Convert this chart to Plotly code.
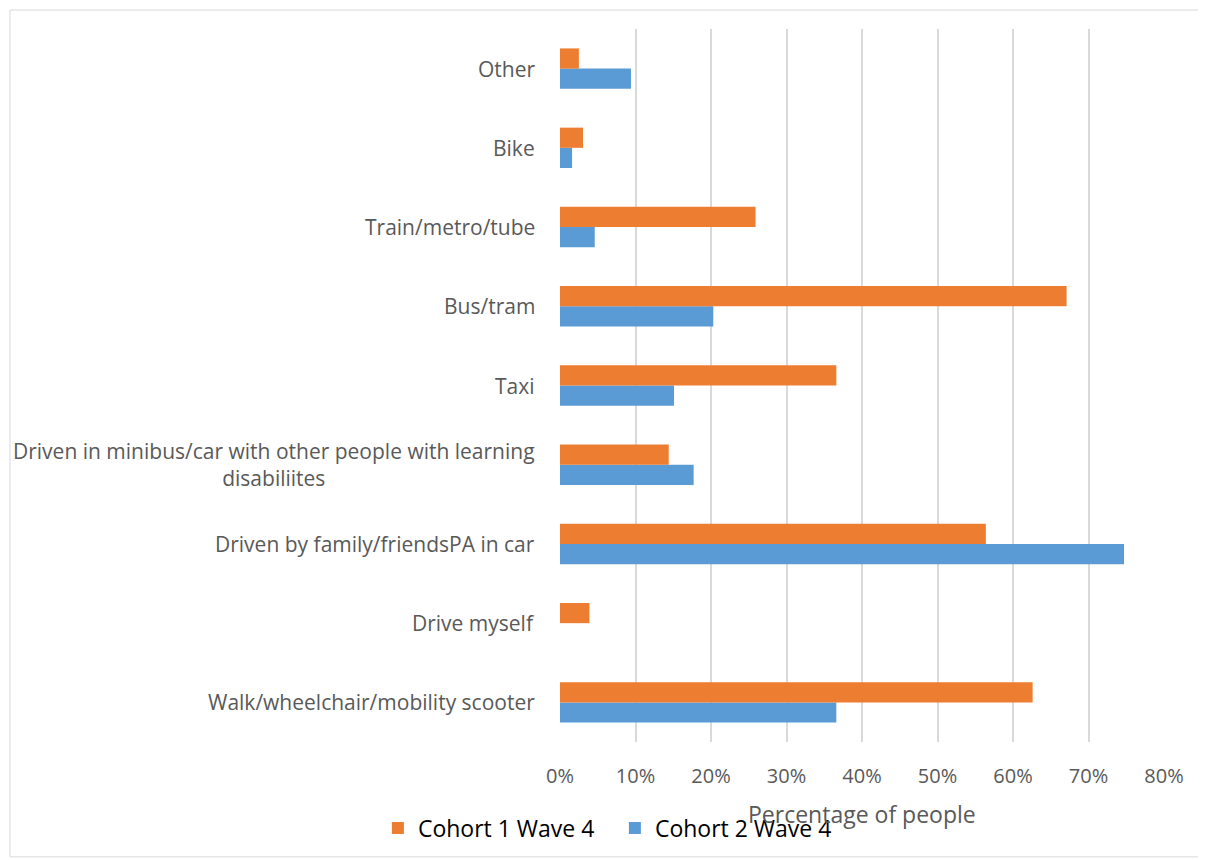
import plotly.graph_objects as go

# Categories listed bottom -> top, as they appear on the y axis
categories = [
    "Walk/wheelchair/mobility scooter",
    "Drive myself",
    "Driven by family/friendsPA in car",
    "Driven in minibus/car with other people with learning<br>disabiliites",
    "Taxi",
    "Bus/tram",
    "Train/metro/tube",
    "Bike",
    "Other",
]
cohort1_wave4 = [62.6, 3.9, 56.4, 14.4, 36.6, 67.1, 25.9, 3.05, 2.5]
cohort2_wave4 = [36.6, 0.0, 74.7, 17.7, 15.1, 20.3, 4.6, 1.6, 9.4]
x_ticks = [0, 10, 20, 30, 40, 50, 60, 70, 80]

ORANGE = "#ED7D31"
BLUE = "#5B9BD5"
GREY_TXT = "#595959"
FONT = "Open Sans"

fig = go.Figure()
# blue first so it sits below orange inside each group
fig.add_trace(go.Bar(
    y=categories, x=cohort2_wave4, orientation="h",
    name="Cohort 2 Wave 4", marker=dict(color=BLUE, line=dict(width=0)),
))
fig.add_trace(go.Bar(
    y=categories, x=cohort1_wave4, orientation="h",
    name="Cohort 1 Wave 4", marker=dict(color=ORANGE, line=dict(width=0)),
))

# category labels as annotations so the wrapped label is centred like Excel
for cat in categories:
    fig.add_annotation(
        x=-0.038, xref="paper", y=cat, yref="y",
        text=cat, showarrow=False, xanchor="right", align="center",
        font=dict(family=FONT, size=21, color=GREY_TXT),
    )

fig.add_annotation(
    text="Percentage of people", xref="paper", yref="paper",
    x=0.5, y=-0.1008, showarrow=False, yanchor="middle",
    font=dict(family=FONT, size=23, color=GREY_TXT),
)

# outer chart border
fig.add_shape(
    type="rect", xref="paper", yref="paper",
    x0=-0.9106, x1=1.0679, y0=-0.1611, y1=1.0266,
    line=dict(color="#d9d9d9", width=1), layer="below",
)

# page body adds an 8px offset, so size and margins are trimmed by that amount
fig.update_layout(
    width=1198, height=852,
    margin=dict(l=552, r=42, t=21, b=117),
    plot_bgcolor="white", paper_bgcolor="white",
    barmode="group", bargap=0.49, bargroupgap=0,
    font=dict(family=FONT, color=GREY_TXT),
    xaxis=dict(
        range=[0, 80], tickvals=x_ticks,
        ticktext=[f"{v}%" for v in x_ticks],
        showgrid=True, gridcolor="#d9d9d9", gridwidth=1.5,
        zeroline=False, showline=False, ticks="",
        ticklabelstandoff=20,
        tickfont=dict(family=FONT, size=20, color=GREY_TXT),
    ),
    yaxis=dict(
        showticklabels=False, showgrid=False, zeroline=False,
        showline=False, ticks="",
    ),
    legend=dict(
        orientation="h", traceorder="reversed",
        x=-0.3015, xanchor="left", y=-0.119, yanchor="middle",
        entrywidth=192,
        font=dict(family=FONT, size=23, color="black"),
        bgcolor="rgba(0,0,0,0)",
    ),
)

fig.write_html("out.html")
